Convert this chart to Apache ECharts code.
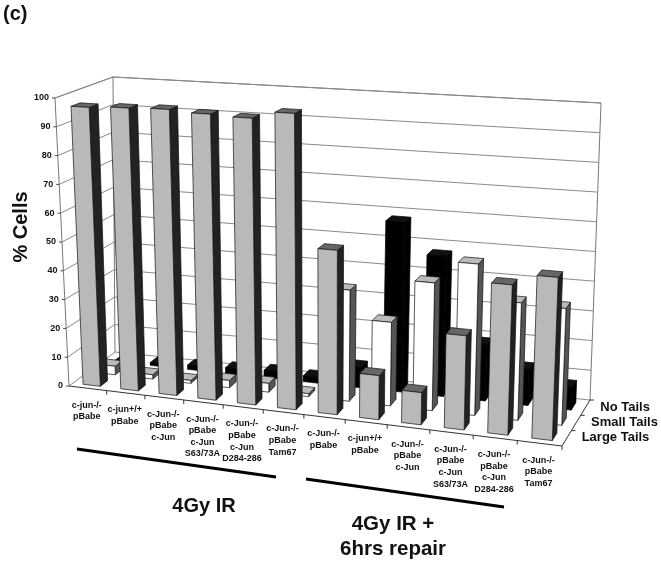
<!DOCTYPE html>
<html lang="en">
<head>
    <meta charset="utf-8">
    <title>% Cells</title>
    <script src="https://cdn.jsdelivr.net/npm/echarts@6/dist/echarts.min.js"></script>
    <style>
        html, body, #main { width: 100%; height: 100%; margin: 0; padding: 0; overflow: hidden; background: #fff; }
    </style>
</head>
<body>
<div id="main"></div>
<script>
    var categories = ['c-jun-/-\npBabe', 'c-jun+/+\npBabe', 'c-Jun-/-\npBabe\nc-Jun', 'c-Jun-/-\npBabe\nc-Jun\nS63/73A',
        'c-Jun-/-\npBabe\nc-Jun\nD284-286', 'c-Jun-/-\npBabe\nTam67', 'c-Jun-/-\npBabe', 'c-jun+/+\npBabe',
        'c-Jun-/-\npBabe\nc-Jun', 'c-Jun-/-\npBabe\nc-Jun\nS63/73A', 'c-Jun-/-\npBabe\nc-Jun\nD284-286', 'c-Jun-/-\npBabe\nTam67'];
    var rowNames = ['Large Tails', 'Small Tails', 'No Tails'];
    var largeTails = [96.7, 97.3, 97.7, 97, 96.5, 99, 54.5, 14.5, 10.5, 30.5, 48.3, 52];
    var smallTails = [3, 1.5, 1, 2.5, 3, 1, 37.5, 28, 42.5, 50, 38.5, 38];
    var noTails = [0, 1, 1.5, 2, 2.5, 2, 7, 58, 47.5, 19, 12, 7.5];
    var yTicks = [0, 10, 20, 30, 40, 50, 60, 70, 80, 90, 100];

    // screen corners of the box, f/b = front/back, l/r = left/right
    var floorFL = [69, 386], floorFR = [562, 446], floorBL = [115, 352], floorBR = [590, 400];
    var topFL = [55, 98], topFR = [574, 130], topBL = [113, 77], topBR = [601, 103];
    var warp = 0.91;

    function mix(a, b, t) {
        return [a[0] + (b[0] - a[0]) * t, a[1] + (b[1] - a[1]) * t];
    }

    // u along categories, v along value, w into the depth, all 0..1
    function project(u, v, w) {
        var p = u * warp / (1 + (warp - 1) * u);
        var bottom = mix(mix(floorFL, floorFR, p), mix(floorBL, floorBR, p), w);
        var top = mix(mix(topFL, topFR, p), mix(topBL, topBR, p), w);
        return mix(bottom, top, v);
    }

    // library scale -> unit box
    function unit(params, api, cat, val) {
        var cs = params.coordSys;
        var pt = api.coord([cat, val]);
        return [(pt[0] - cs.x) / cs.width, (cs.y + cs.height - pt[1]) / cs.height];
    }

    function face(points, fill, stroke) {
        return {
            type: 'polygon',
            shape: {points: points},
            style: {fill: fill, stroke: stroke, lineWidth: 0.7}
        };
    }

    function barRenderer(row, front, side, top, stroke) {
        return function (params, api) {
            var cat = api.value(0);
            var val = api.value(1);
            var a = unit(params, api, cat, val);
            var band = api.size([1, 0])[0] / params.coordSys.width;
            var u0 = a[0] - band * 0.23, u1 = a[0] + band * 0.23;
            var w0 = (row + 0.5) / 3 - 0.08, w1 = (row + 0.5) / 3 + 0.08;
            var v = a[1];
            return {
                type: 'group',
                children: [
                    face([project(u1, 0, w0), project(u1, 0, w1), project(u1, v, w1), project(u1, v, w0)], side, stroke),
                    face([project(u0, v, w0), project(u1, v, w0), project(u1, v, w1), project(u0, v, w1)], top, stroke),
                    face([project(u0, 0, w0), project(u1, 0, w0), project(u1, v, w0), project(u0, v, w0)], front, stroke)
                ]
            };
        };
    }

    function line(a, b, color, width) {
        return {
            type: 'line',
            shape: {x1: a[0], y1: a[1], x2: b[0], y2: b[1]},
            style: {stroke: color, lineWidth: width || 1}
        };
    }

    function renderGrid(params, api) {
        var val = api.value(1);
        var v = unit(params, api, 0, val)[1];
        var fl = project(0, v, 0), bl = project(0, v, 1), br = project(1, v, 1);
        var kids = [line(fl, bl, '#8a8a8a'), line(bl, br, '#8a8a8a'), line([fl[0] - 3, fl[1]], fl, '#444')];
        kids.push({
            type: 'text',
            style: {
                x: fl[0] - 6, y: fl[1], text: String(val), align: 'right', verticalAlign: 'middle',
                font: 'bold 9px "Liberation Sans"', fill: '#111'
            }
        });
        if (val === 0) {
            kids.push(line(project(0, 0, 0), project(0, 1, 0), '#777'));
            kids.push(line(project(0, 0, 1), project(0, 1, 1), '#777'));
            kids.push(line(project(1, 0, 1), project(1, 1, 1), '#777'));
            kids.push(line(project(0, 1, 0), project(0, 1, 1), '#777'));
            kids.push(line(project(0, 1, 1), project(1, 1, 1), '#777'));
            kids.push(line(project(0, 0, 0), project(1, 0, 0), '#333'));
            kids.push(line(project(1, 0, 0), project(1, 0, 1), '#333'));
        }
        return {type: 'group', children: kids};
    }

    function renderCategory(params, api) {
        var idx = api.value(0);
        var band = api.size([1, 0])[0] / params.coordSys.width;
        var c = unit(params, api, idx, 0)[0];
        var tick = project(c + band / 2, 0, 0);
        var mid = project(c, 0, 0);
        return {
            type: 'group',
            children: [
                line(tick, [tick[0], tick[1] + 4], '#333'),
                {
                    type: 'text',
                    style: {
                        x: mid[0] - 1, y: mid[1] + 11, text: categories[idx], align: 'center', verticalAlign: 'top',
                        font: 'bold 9px "Liberation Sans"', lineHeight: 11.6, fill: '#111'
                    }
                }
            ]
        };
    }

    function renderRow(params, api) {
        var row = api.value(0);
        var e = project(1, 0, (row + 0.5) / 3);
        var edge = project(1, 0, (row + 1) / 3);
        return {
            type: 'group',
            children: [
                line(edge, [edge[0] + 4, edge[1]], '#333'),
                {
                    type: 'text',
                    style: {
                        x: e[0] + 15, y: e[1] - (row === 2 ? 0 : 1), text: rowNames[row], align: 'left', verticalAlign: 'middle',
                        font: 'bold 13px "Liberation Sans"', fill: '#111'
                    }
                }
            ]
        };
    }

    function pairs(values) {
        return values.map(function (v, i) { return [i, v]; });
    }

    var option = {
        animation: false,
        backgroundColor: '#fff',
        grid: {left: 0, right: 0, top: 0, bottom: 0},
        xAxis: {type: 'category', data: categories, show: false},
        yAxis: {type: 'value', min: 0, max: 100, show: false},
        graphic: [
            {type: 'text', left: 3, top: 4, style: {text: '(c)', font: 'bold 20px "Liberation Sans"', fill: '#111'}},
            {type: 'text', x: 21, y: 227, rotation: Math.PI / 2, style: {text: '% Cells', align: 'center', verticalAlign: 'middle', font: 'bold 20px "Liberation Sans"', fill: '#111'}},
            {type: 'text', x: 204, y: 506, style: {text: '4Gy IR', align: 'center', verticalAlign: 'middle', font: 'bold 20px "Liberation Sans"', fill: '#111'}},
            {type: 'text', x: 393, y: 537, style: {text: '4Gy IR +\n6hrs repair', align: 'center', verticalAlign: 'middle', font: 'bold 20.5px "Liberation Sans"', lineHeight: 25, fill: '#111'}},
            {type: 'line', shape: {x1: 77, y1: 449, x2: 276, y2: 477}, style: {stroke: '#000', lineWidth: 3}},
            {type: 'line', shape: {x1: 306, y1: 479, x2: 504, y2: 507}, style: {stroke: '#000', lineWidth: 3}}
        ],
        series: [
            {type: 'custom', z: 1, silent: true, data: yTicks.map(function (t) { return [0, t]; }), renderItem: renderGrid},
            {type: 'custom', z: 1, silent: true, data: categories.map(function (c, i) { return [i, 0]; }), renderItem: renderCategory},
            {type: 'custom', z: 1, silent: true, data: rowNames.map(function (c, i) { return [i, 0]; }), renderItem: renderRow},
            {type: 'custom', z: 2, silent: true, name: 'No Tails', data: pairs(noTails), renderItem: barRenderer(2, '#000', '#000', '#111', '#000')},
            {type: 'custom', z: 3, silent: true, name: 'Small Tails', data: pairs(smallTails), renderItem: barRenderer(1, '#fff', '#555', '#bbb', '#111')},
            {type: 'custom', z: 4, silent: true, name: 'Large Tails', data: pairs(largeTails), renderItem: barRenderer(0, '#b9b9b9', '#222', '#666', '#111')}
        ]
    };

    var chart = echarts.init(document.getElementById('main'));
    chart.setOption(option);
</script>
</body>
</html>
